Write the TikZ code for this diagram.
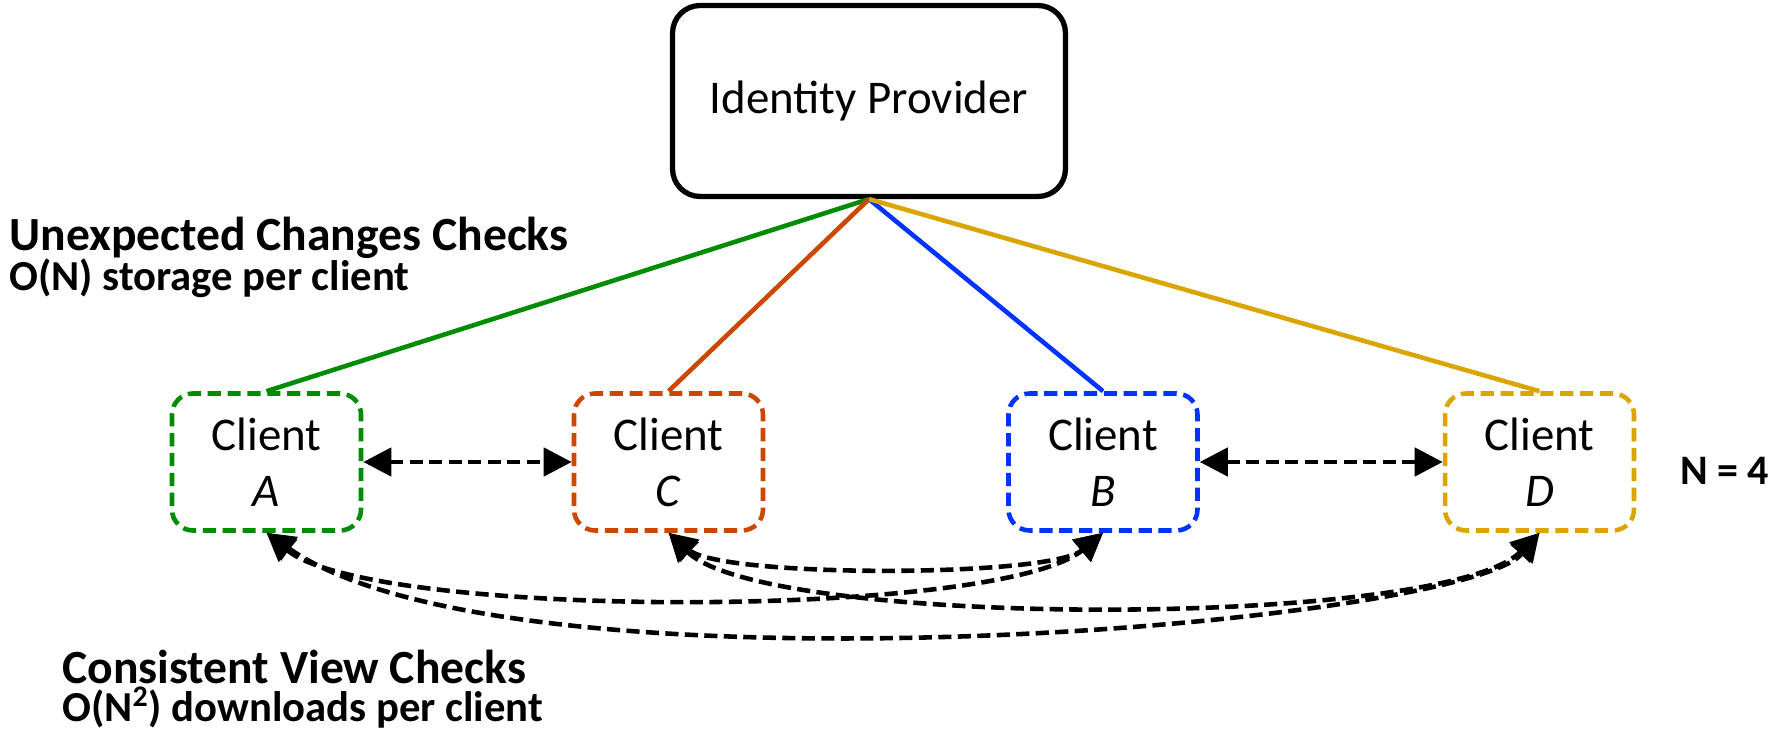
\documentclass[tikz,border=0pt]{standalone}
\usepackage{fontspec}
\setmainfont{Carlito}
\usetikzlibrary{arrows.meta, positioning}
\definecolor{cgreen}{RGB}{0,140,0}
\definecolor{corange}{RGB}{204,72,0}
\definecolor{cblue}{RGB}{0,51,255}
\definecolor{cgold}{RGB}{218,165,0}
\tikzset{
	clientbox/.style={draw, rounded corners=0.42cm, line width=2.6pt, dash pattern=on 7.5pt off 3.8pt,
		minimum width=3.78cm, minimum height=2.74cm, align=center, text=black,
		font=\fontsize{26.7}{32}\selectfont},
	peerlink/.style={line width=2.6pt, dash pattern=on 7.5pt off 3.6pt,
		{Triangle[length=16pt,width=16pt]}-{Triangle[length=16pt,width=16pt]}},
	idplink/.style={line width=2.6pt},
	headline/.style={anchor=base west, inner sep=0pt, text depth=0pt, font=\bfseries\fontsize{27.1}{32}\selectfont},
	subline/.style={anchor=base west, inner sep=0pt, text height=0.66em, text depth=0pt, font=\bfseries\fontsize{24.3}{28}\selectfont}
}
\begin{document}
\begin{tikzpicture}[x=0.02cm,y=0.02cm]
	\useasboundingbox (0,0) rectangle (1768,730);
	\node(idp) [draw, rounded corners=0.55cm, line width=3pt, minimum width=7.86cm, minimum height=3.82cm,
		font=\fontsize{26.7}{32}\selectfont] at (869,629) {Identity Provider};
	
	%----------------------------------------------------------------
	\node(clientA) [clientbox, draw=cgreen]  at (266.5,268) {Client\\ \textit{A}};
	\node(clientC) [clientbox, draw=corange] at (668.5,268) {Client\\ \textit{C}};
	\node(clientB) [clientbox, draw=cblue]   at (1103,268)  {Client\\ \textit{B}};
	\node(clientD) [clientbox, draw=cgold]   at (1539.5,268) {Client\\ \textit{D}};
	
	\node(count) [headline, font=\bfseries\fontsize{23.9}{28}\selectfont] at (1680,245) {N = 4};
	
	%----------------------------------------------------------------
	\draw [idplink, cgreen]  (idp.south) -- (clientA.north);
	\draw [idplink, corange] (idp.south) -- (clientC.north);
	\draw [idplink, cblue]   (idp.south) -- (clientB.north);
	\draw [idplink, cgold]   (idp.south) -- (clientD.north);
	
	\draw [peerlink] (clientA.east) -- (clientC.west);
	\draw [peerlink] (clientB.east) -- (clientD.west);
	
	\draw [peerlink] (clientA.south) .. controls +(-40:135) and +(-140:135) .. (clientB.south);
	\draw [peerlink] (clientA.south) .. controls +(-35:300) and +(-130:120) .. (clientD.south);
	\draw [peerlink] (clientC.south) .. controls +(-40:70) and +(-140:70) .. (clientB.south);
	\draw [peerlink] (clientC.south) .. controls +(-45:136) and +(-135:136) .. (clientD.south);
	
	%----------------------------------------------------------------
	\node(uctitle) [headline] at (9,479) {Unexpected Changes Checks};
	\node(ucsub) [subline] at (9,439) {O(N) storage per client};
	
	\node(cvtitle) [headline] at (62,46) {Consistent View Checks};
	\node(cvsub) [subline] at (62,8) {O(N\textsuperscript{2}) downloads per client};
\end{tikzpicture}
\end{document}
